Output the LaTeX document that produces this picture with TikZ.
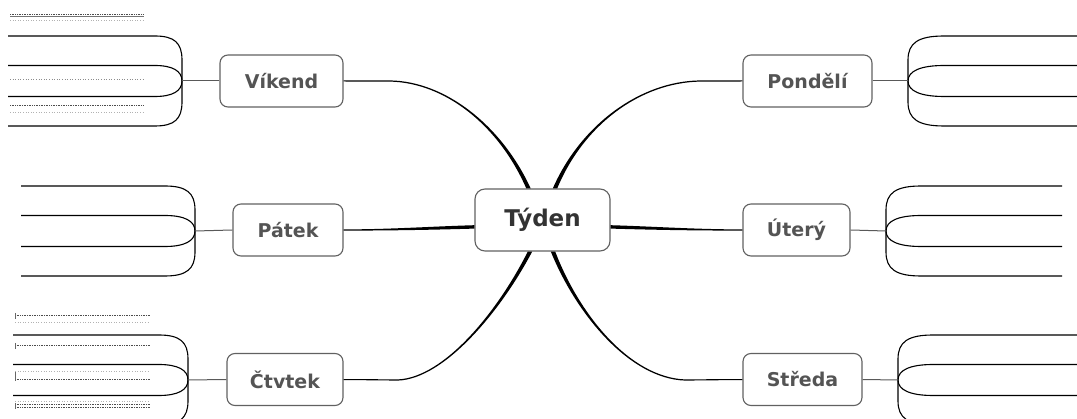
\documentclass[tikz,border=0pt]{standalone}
\usepackage{fontspec}
\setmainfont{DejaVu Sans}
\usetikzlibrary{calc}
% tapered branch: start (thick), two controls, end of curve, node anchor, side sign
\newcommand\limb[6]{%
  \fill[limbfill] ($#1+(-2.2,0)$) .. controls ($#2+(-1.5,0)$) and ($#3+(0,{0.8*(#6)})$) .. ($#4+(0,{0.6*(#6)})$)
    -- ($#5+(0,{0.5*(#6)})$) -- ($#5+(0,{-0.5*(#6)})$)
    -- ($#4+(0,{-0.6*(#6)})$) .. controls ($#3+(0,{-0.8*(#6)})$) and ($#2+(1.5,0)$) .. ($#1+(2.2,0)$) -- cycle;}
% fan of four lines from joint (#1,#2) to x=#3; #4 is the signed width of the curved part
\newcommand\fan[4]{%
  \draw[fan] ({#3},{#2-45}) -- ({#1+(#4)},{#2-45}) .. controls ({#1+0.28*(#4)},{#2-45}) and ({#1},{#2-38}) .. ({#1},{#2-21})
    -- ({#1},{#2+21}) .. controls ({#1},{#2+38}) and ({#1+0.28*(#4)},{#2+45}) .. ({#1+(#4)},{#2+45}) -- ({#3},{#2+45});
  \draw[fan] ({#3},{#2-15.5}) -- ({#1+(#4)},{#2-15.5}) .. controls ({#1+0.35*(#4)},{#2-15.5}) and ({#1},{#2-10}) .. ({#1},{#2})
    .. controls ({#1},{#2+10}) and ({#1+0.35*(#4)},{#2+15.5}) .. ({#1+(#4)},{#2+15.5}) -- ({#3},{#2+15.5});}
\begin{document}
\begin{tikzpicture}[x=1pt,y=-1pt,
  box/.style={draw=black!62, line width=1.1pt, rounded corners=8pt, fill=white,
    minimum height=52pt, inner sep=0pt, font=\bfseries\fontsize{19}{19}\selectfont, text=black!67},
  hub/.style={box, minimum height=62pt, minimum width=135pt, rounded corners=10pt,
    font=\bfseries\fontsize{23}{23}\selectfont, text=black!80},
  fan/.style={line width=1.1pt, black},
  stem/.style={line width=1pt, black!65},
  limbfill/.style={fill=black},
  darknote/.style={line width=0.7pt, black!70, densely dotted},
  lightnote/.style={line width=0.6pt, black!30, dotted},
  tick/.style={line width=0.6pt, black!60}]
\useasboundingbox (0,0) rectangle (1077,419);
\clip (0,0) rectangle (1077,419);

% central topic and the six days
\node[hub] (ty) at (542.5,220) {Týden};
\node[box, minimum width=123pt] (vk) at (281.5,81) {Víkend};
\node[box, minimum width=110pt] (pa) at (288,230) {Pátek};
\node[box, minimum width=116pt] (ct) at (285,379.5) {Čtvtek};
\node[box, minimum width=129pt] (po) at (807.5,81) {Pondělí};
\node[box, minimum width=107pt] (ut) at (796.5,230) {Úterý};
\node[box, minimum width=119pt] (st) at (802.5,379.5) {Středa};

% main branches
\limb{(ty.north)+(-14,0)}{(500,125)}{(445,82)}{(390,81)}{(vk.east)}{1}
\limb{(ty.north)+(12.5,0)}{(582,125)}{(640,82)}{(700,81)}{(po.west)}{-1}
\limb{(ty.south)+(-12.5,0)}{(500,310)}{(445,378)}{(398,380)}{(ct.east)}{-1}
\limb{(ty.south)+(10.5,0)}{(578,315)}{(630,378)}{(685,380)}{(st.west)}{1}
\fill[limbfill] ($(ty.west)+(0,5.2)$) .. controls (430,226.5) and (390,229.4) .. ($(pa.east)+(0,-0.6)$)
  -- ($(pa.east)+(0,0.6)$) .. controls (390,230.6) and (430,229.9) .. ($(ty.west)+(0,8.6)$) -- cycle;
\fill[limbfill] ($(ty.east)+(0,5.2)$) .. controls (655,226.5) and (695,229.4) .. ($(ut.west)+(0,-0.6)$)
  -- ($(ut.west)+(0,0.6)$) .. controls (695,230.6) and (655,229.9) .. ($(ty.east)+(0,8.6)$) -- cycle;

% fans of subtopic lines
\coordinate (jvk) at (182,81);
\coordinate (jpa) at (195,231);
\coordinate (jct) at (188,380);
\coordinate (jpo) at (908,81);
\coordinate (jut) at (886,231);
\coordinate (jst) at (898,380);
\fan{182}{81}{8}{-27}
\fan{195}{231}{21}{-30}
\fan{188}{380}{13}{-29}
\fan{908}{81}{1080}{36}
\fan{886}{231}{1062}{35}
\fan{898}{380}{1080}{35}
\draw[stem] (vk.west) -- (jvk);
\draw[stem] (pa.west) -- (jpa);
\draw[stem] (ct.west) -- (jct);
\draw[stem] (po.east) -- (jpo);
\draw[stem] (ut.east) -- (jut);
\draw[stem] (st.east) -- (jst);

% tiny note lines
\draw[darknote] (10,14.3) -- (144,14.3);
\draw[line width=0.6pt, black!55] (10,16.8) -- (144,16.8);
\draw[lightnote] (10,20) -- (144,20);
\draw[lightnote, black!45] (10,79) -- (144,79);
\draw[darknote] (10,105) -- (144,105);
\draw[lightnote] (10,112) -- (144,112);

\draw[darknote] (15,315) -- (150,315);
\draw[lightnote] (15,322) -- (150,322);
\draw[darknote] (15,345) -- (150,345);
\draw[lightnote] (15,371) -- (150,371);
\draw[darknote] (15,379) -- (150,379);
\draw[lightnote] (15,401) -- (150,401);
\draw[darknote] (15,404) -- (150,404);
\draw[darknote] (15,407) -- (150,407);
\draw[tick] (15,313) -- (15,319);
\draw[tick] (15,343) -- (15,349);
\draw[tick] (15,372) -- (15,381);
\draw[tick] (15,403) -- (15,409);
\end{tikzpicture}
\end{document}
